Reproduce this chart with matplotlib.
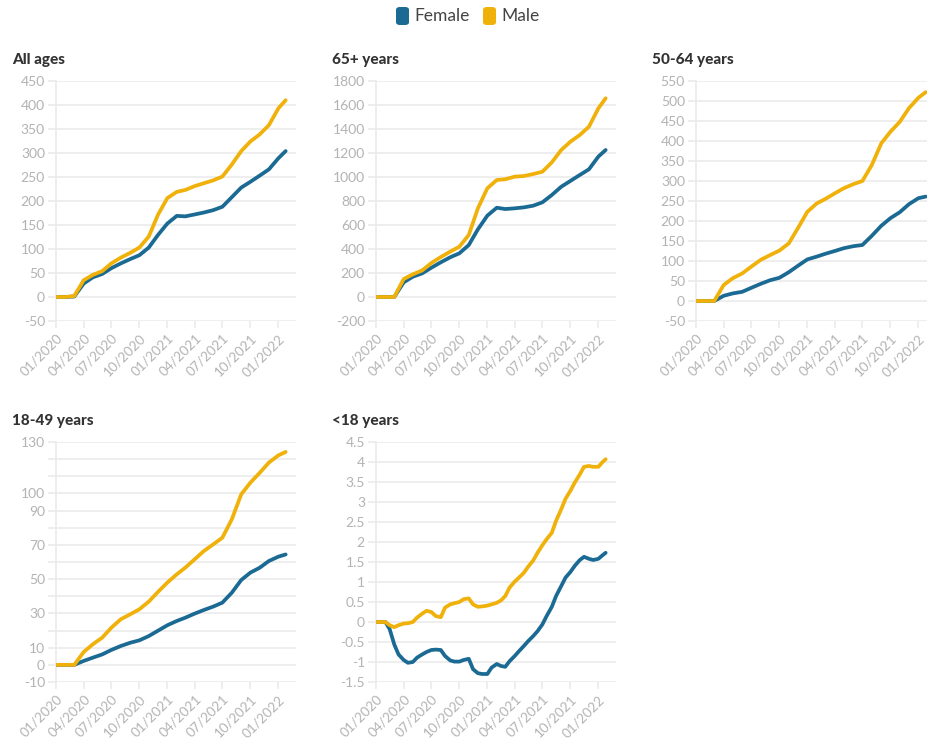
import matplotlib.pyplot as plt
import pandas as pd
from matplotlib.patches import FancyBboxPatch

plt.rcParams['font.family'] = ['Lato', 'DejaVu Sans']

W, H = 927, 745
FEMALE = '#1b6a94'
MALE = '#f0b10a'
GRID = '#ebebeb'
TICK_TXT = '#b3b3b3'

# x categories: monthly readings, half-monthly for the <18 panel
months = list(pd.date_range('2020-01-01', '2022-01-01', freq='MS')) + [pd.Timestamp('2022-01-25')]
half_months = list(pd.date_range('2020-01-01', '2022-01-15', freq='SMS')) + [pd.Timestamp('2022-01-25')]

all_female = [0, 0, 1, 28, 41, 48, 60, 70, 79, 87, 103, 129, 153, 169, 168, 172, 176, 181,
              188, 208, 228, 240, 253, 266, 289, 304]
all_male = [0, 0, 2, 35, 46, 54, 70, 82, 92, 103, 126, 171, 206, 219, 223, 231, 237, 243,
            251, 276, 304, 324, 339, 358, 393, 410]

old_female = [0, 0, 0, 122, 169, 197, 244, 289, 331, 364, 433, 564, 678, 744, 733, 739, 747,
              761, 789, 850, 919, 967, 1017, 1064, 1170, 1225]
old_male = [0, 0, 0, 150, 189, 222, 283, 333, 378, 419, 517, 739, 906, 975, 981, 1003, 1008,
            1025, 1044, 1122, 1225, 1294, 1350, 1419, 1572, 1656]

mid_female = [0, 0, 0, 13, 19, 23, 33, 43, 52, 58, 72, 88, 104, 111, 118, 125, 132, 137, 140,
              163, 188, 207, 222, 242, 257, 261]
mid_male = [0, 0, 0, 40, 57, 69, 86, 103, 115, 126, 144, 182, 223, 244, 255, 269, 282, 292,
            300, 340, 394, 423, 448, 482, 508, 522]

young_female = [0, 0, 0, 2.3, 4.2, 6.1, 8.7, 11.0, 12.9, 14.3, 16.8, 19.9, 23.1, 25.6, 27.5,
                29.9, 32.0, 34.0, 36.3, 42.1, 49.5, 53.8, 56.7, 60.6, 63.1, 64.4]
young_male = [0, 0, 0, 7.5, 12.0, 15.9, 21.7, 26.6, 29.5, 32.4, 36.9, 42.5, 48.0, 52.8, 56.7,
              61.6, 66.4, 70.3, 74.2, 84.9, 99.5, 106.3, 112.1, 118.0, 122.2, 124.2]

kids_female = [0, 0, 0, -0.18, -0.56, -0.81, -0.95, -1.02, -1.00, -0.89, -0.81, -0.75, -0.70,
               -0.69, -0.70, -0.85, -0.96, -0.99, -0.99, -0.95, -0.92, -1.18, -1.28, -1.30,
               -1.30, -1.14, -1.05, -1.10, -1.12, -0.98, -0.85, -0.73, -0.60, -0.48, -0.35,
               -0.23, -0.06, 0.15, 0.38, 0.65, 0.90, 1.11, 1.25, 1.40, 1.55, 1.63, 1.58,
               1.55, 1.58, 1.67, 1.73]
kids_male = [0, 0, 0, -0.08, -0.13, -0.08, -0.04, -0.03, 0.0, 0.11, 0.21, 0.28, 0.25, 0.15,
             0.12, 0.36, 0.44, 0.47, 0.50, 0.57, 0.59, 0.44, 0.38, 0.39, 0.41, 0.44, 0.48,
             0.54, 0.65, 0.86, 1.01, 1.11, 1.23, 1.38, 1.54, 1.73, 1.92, 2.07, 2.23, 2.53,
             2.82, 3.08, 3.28, 3.48, 3.69, 3.88, 3.90, 3.88, 3.88, 4.00, 4.07]

titles = ['All ages', '65+ years', '50-64 years', '18-49 years', '<18 years']

all_ticks = list(range(-50, 451, 50))
old_ticks = list(range(-200, 1801, 200))
mid_ticks = list(range(-50, 551, 50))
young_ticks = list(range(-10, 131, 10))
young_labels = ['-10', '0', '10', '', '30', '', '50', '', '70', '', '90', '100', '', '', '130']
kids_ticks = [-1.5, -1, -0.5, 0, 0.5, 1, 1.5, 2, 2.5, 3, 3.5, 4, 4.5]
kids_labels = ['-1.5', '-1', '-0.5', '0', '0.5', '1', '1.5', '2', '2.5', '3', '3.5', '4', '4.5']

x_ticks = pd.date_range('2020-01-01', '2022-01-01', freq='3MS')

panels = [
    (titles[0], months, all_female, all_male, all_ticks, [str(t) for t in all_ticks], (56, 81)),
    (titles[1], months, old_female, old_male, old_ticks, [str(t) for t in old_ticks], (376, 81)),
    (titles[2], months, mid_female, mid_male, mid_ticks, [str(t) for t in mid_ticks], (696, 81)),
    (titles[3], months, young_female, young_male, young_ticks, young_labels, (56, 442)),
    (titles[4], half_months, kids_female, kids_male, kids_ticks, kids_labels, (376, 442)),
]

fig = plt.figure(figsize=(W / 100, H / 100), dpi=100)

for title, dates, fem, mal, yt, ytl, (px, py) in panels:
    ax = fig.add_axes([px / W, 1 - (py + 240) / H, 240 / W, 240 / H])
    ax.plot(dates, fem, color=FEMALE, lw=2.7, solid_capstyle='round', zorder=3)
    ax.plot(dates, mal, color=MALE, lw=2.7, solid_capstyle='round', zorder=3)
    ax.set_ylim(yt[0], yt[-1])
    ax.set_yticks(yt)
    ax.set_yticklabels(ytl)
    ax.set_xlim(pd.Timestamp('2020-01-01'), pd.Timestamp('2022-02-28'))
    ax.set_xticks(x_ticks)
    ax.set_xticklabels([d.strftime('%m/%Y') for d in x_ticks], rotation=45,
                       ha='right', va='top', rotation_mode='anchor')
    ax.grid(axis='y', color=GRID, lw=1.2, zorder=0)
    for s in ['top', 'right', 'bottom']:
        ax.spines[s].set_visible(False)
    ax.spines['left'].set_color(GRID)
    ax.spines['left'].set_linewidth(1.2)
    ax.tick_params(axis='y', length=6, width=1.2, color=GRID, pad=2,
                   labelcolor=TICK_TXT, labelsize=10)
    ax.tick_params(axis='x', length=5, width=1.2, color=GRID, pad=3,
                   labelcolor=TICK_TXT, labelsize=9.8)
    ax.set_facecolor('none')
    fig.text((px - 44) / W, 1 - (py - 17) / H, title, fontsize=11, fontweight='black',
             color='#333333', va='baseline', ha='left')

# legend
for x0, col, label in [(396, FEMALE, 'Female'), (483, MALE, 'Male')]:
    box = FancyBboxPatch((x0 / W, 1 - 25 / H), 13 / W, 18 / H,
                         boxstyle='round,pad=0,rounding_size=0.004',
                         transform=fig.transFigure, facecolor=col, edgecolor='none')
    fig.patches.append(box)
    fig.text((x0 + 18) / W, 1 - 16 / H, label, fontsize=12.5, color='#444444',
             va='center', ha='left')

fig.savefig('out.png', dpi=100)
